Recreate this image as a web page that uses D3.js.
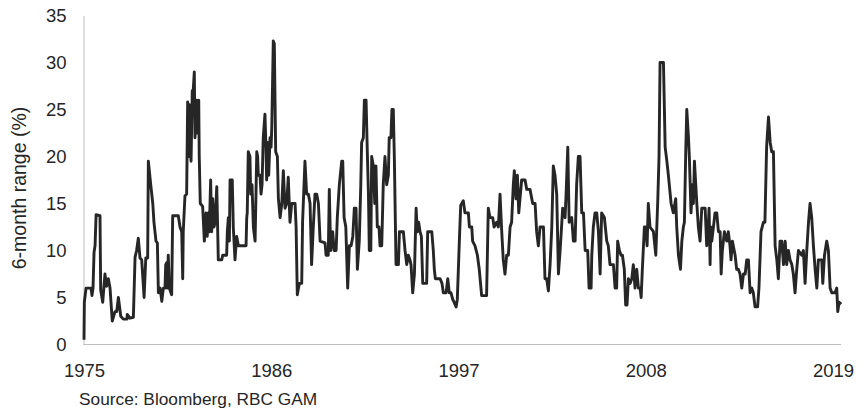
<!DOCTYPE html>
<html><head><meta charset="utf-8">
<script src="https://cdn.jsdelivr.net/npm/d3@7"></script>
<style>
body{margin:0;background:#fff;}
svg{display:block;font-family:"Liberation Sans",Arial,sans-serif;}
</style></head>
<body>
<svg id="chart" width="865" height="411"></svg>
<script>
const yTicks = [0,5,10,15,20,25,30,35];
const xTickLabels = [1975,1986,1997,2008,2019];
const dates = [
1975.00,1975.02,1975.12,1975.41,1975.47,1975.53,1975.59,1975.65,1975.71,1975.94,1975.98,1976.10,1976.23,1976.33,1976.43,1976.53,1976.66,1976.82,1976.92,1977.02,1977.16,1977.31,1977.53,1977.54,1977.70,1977.90,1978.00,1978.09,1978.19,1978.29,1978.39,1978.53,1978.63,1978.74,1978.78,1978.92,1979.04,1979.11,1979.23,1979.31,1979.37,1979.47,1979.57,1979.66,1979.76,1979.80,1979.86,1979.89,1979.95,1980.01,1980.15,1980.21,1980.54,1980.64,1980.74,1980.80,1980.83,1980.93,1981.03,1981.09,1981.15,1981.19,1981.23,1981.29,1981.36,1981.40,1981.48,1981.52,1981.62,1981.67,1981.74,1981.77,1981.83,1981.97,1982.07,1982.17,1982.24,1982.30,1982.36,1982.44,1982.50,1982.56,1982.64,1982.70,1982.80,1982.89,1983.09,1983.15,1983.38,1983.42,1983.48,1983.54,1983.58,1983.71,1983.77,1983.87,1983.97,1984.07,1984.52,1984.56,1984.59,1984.65,1984.75,1984.79,1984.87,1984.95,1985.05,1985.15,1985.20,1985.24,1985.34,1985.40,1985.46,1985.53,1985.63,1985.69,1985.73,1985.79,1985.85,1985.93,1985.99,1986.03,1986.12,1986.18,1986.26,1986.36,1986.42,1986.52,
1986.62,1986.71,1986.81,1986.91,1987.00,1987.10,1987.20,1987.40,1987.46,1987.53,1987.65,1987.79,1987.84,1987.98,1988.08,1988.18,1988.28,1988.37,1988.47,1988.57,1988.67,1988.77,1988.87,1989.16,1989.22,1989.35,1989.41,1989.49,1989.61,1989.69,1989.81,1989.88,1990.00,1990.14,1990.20,1990.28,1990.38,1990.49,1990.59,1990.69,1990.79,1990.88,1990.98,1991.06,1991.17,1991.26,1991.31,1991.41,1991.47,1991.57,1991.65,1991.71,1991.76,1991.85,1991.90,1992.00,1992.08,1992.15,1992.23,1992.33,1992.39,1992.49,1992.58,1992.68,1992.78,1992.88,1992.93,1993.03,1993.09,1993.17,1993.23,1993.33,1993.47,1993.53,1993.76,1993.86,1993.96,1994.05,1994.15,1994.21,1994.31,1994.41,1994.51,1994.58,1994.66,1994.74,1994.82,1994.90,1995.13,1995.19,1995.43,1995.52,1995.58,1995.64,1995.92,1996.03,1996.11,1996.27,1996.37,1996.46,1996.56,1996.66,1996.74,1996.86,1996.93,
1997.05,1997.13,1997.28,1997.38,1997.58,1997.64,1997.78,1997.83,1997.97,1998.11,1998.22,1998.36,1998.65,1998.75,1998.85,1999.01,1999.09,1999.24,1999.34,1999.44,1999.54,1999.63,1999.73,1999.83,1999.93,2000.03,2000.12,2000.22,2000.28,2000.38,2000.46,2000.54,2000.71,2000.91,2001.01,2001.20,2001.36,2001.50,2001.59,2001.69,2001.79,2001.99,2002.08,2002.18,2002.28,2002.38,2002.48,2002.57,2002.67,2002.77,2002.87,2002.97,2003.12,2003.26,2003.32,2003.42,2003.50,2003.65,2003.75,2003.85,2003.94,2004.04,2004.14,2004.24,2004.34,2004.44,2004.59,2004.67,2004.79,2004.83,2004.92,2005.02,2005.12,2005.22,2005.32,2005.41,2005.57,2005.71,2005.80,2005.90,2006.10,2006.20,2006.29,2006.35,2006.45,2006.55,2006.63,2006.74,2006.82,2006.90,2006.98,2007.08,2007.18,2007.27,2007.37,2007.47,2007.57,2007.67,2007.73,2007.80,2007.92,
2008.00,2008.08,2008.15,2008.25,2008.45,2008.59,2008.71,2008.78,2008.84,2009.04,2009.14,2009.24,2009.33,2009.49,2009.62,2009.76,2009.82,2009.92,2010.04,2010.12,2010.21,2010.27,2010.35,2010.41,2010.51,2010.56,2010.66,2010.74,2010.80,2010.86,2011.00,2011.09,2011.19,2011.29,2011.49,2011.58,2011.64,2011.72,2011.78,2011.82,2011.88,2012.07,2012.17,2012.27,2012.37,2012.43,2012.50,2012.62,2012.76,2012.85,2012.95,2013.01,2013.09,2013.25,2013.34,2013.44,2013.54,2013.64,2013.74,2013.84,2013.93,2014.03,2014.13,2014.23,2014.32,2014.42,2014.57,2014.65,2014.77,2014.91,2015.00,2015.10,2015.21,2015.31,2015.40,2015.50,2015.60,2015.70,2015.79,2015.89,2015.99,2016.09,2016.19,2016.28,2016.38,2016.48,2016.58,2016.67,2016.77,2016.87,2016.97,2017.16,2017.26,2017.36,2017.46,2017.56,2017.65,2017.75,2017.85,2017.95,2018.05,2018.14,2018.34,2018.40,2018.50,2018.63,2018.73,2018.83,2018.93,2019.12,2019.22,2019.28,2019.36,2019.48
];
const values = [
0.5,4.5,6.0,6.0,5.2,6.0,9.8,10.5,13.8,13.7,5.8,4.5,7.5,6.2,7.0,6.0,2.5,3.5,3.5,5.0,3.0,2.7,2.7,3.2,2.8,2.9,9.3,10.0,11.3,9.2,9.0,5.0,9.2,9.2,19.5,17.0,15.0,13.0,11.0,10.8,5.5,6.0,4.6,6.0,6.0,8.5,8.7,6.0,9.5,6.0,5.3,13.7,13.7,12.5,12.0,7.0,12.0,15.8,16.0,25.8,20.0,25.5,21.0,19.5,27.0,26.5,29.0,22.0,26.0,22.5,26.0,20.0,15.0,14.7,11.0,14.0,11.5,14.0,12.0,17.5,12.0,15.5,12.5,13.0,16.8,9.0,9.0,9.5,9.5,12.0,13.5,11.0,17.5,17.5,12.5,9.0,11.5,10.5,10.5,13.5,14.0,20.5,20.0,16.0,17.0,12.5,11.0,20.5,20.0,18.0,18.0,16.0,17.0,22.0,24.5,21.0,17.5,21.5,18.0,22.0,21.0,23.0,32.3,32.0,20.5,20.0,15.5,13.5,
15.0,18.5,14.5,15.0,17.8,13.0,15.0,15.0,12.5,5.3,6.5,6.5,13.0,19.5,16.0,16.0,15.0,8.5,12.5,16.0,16.0,15.0,11.0,10.8,9.5,9.5,16.5,10.0,12.0,10.0,10.0,13.5,17.0,19.5,19.5,13.5,12.5,6.0,10.5,10.5,11.5,14.5,14.5,8.0,11.0,17.0,21.5,22.0,26.0,26.0,20.0,16.0,10.0,10.0,20.0,19.0,15.0,19.0,12.5,12.5,10.5,10.5,17.0,20.0,17.0,18.0,22.0,22.0,25.0,25.0,20.0,8.5,8.5,12.0,12.0,10.0,8.5,9.5,9.0,8.5,5.5,7.5,14.5,12.0,13.0,12.0,11.5,6.5,6.5,12.0,12.0,10.0,8.0,7.0,7.0,6.5,5.5,5.5,7.0,5.5,5.5,4.8,4.5,4.0,4.8,
11.0,14.8,15.3,14.0,14.0,12.5,12.5,11.0,10.5,9.5,8.0,5.2,5.2,14.5,13.5,13.5,12.5,13.0,12.5,16.0,12.0,9.0,7.5,9.5,9.5,12.5,13.0,17.0,18.5,15.5,18.0,14.0,17.5,17.5,16.5,16.5,15.0,15.0,12.0,10.5,12.5,12.5,7.0,7.0,5.7,8.5,12.5,19.0,18.0,16.0,7.5,10.0,14.5,13.5,16.0,21.0,13.0,13.5,11.0,11.0,17.0,20.0,20.0,14.0,14.0,10.0,10.0,6.0,6.0,9.5,12.5,14.0,14.0,12.0,7.5,14.0,13.5,11.0,10.5,8.5,8.5,6.0,6.0,11.0,10.0,9.5,9.5,8.0,4.2,4.2,7.0,6.5,7.0,8.5,6.0,8.0,6.0,6.0,5.0,8.0,12.5,
12.5,10.5,15.0,12.5,12.0,9.5,15.5,20.0,30.0,30.0,21.0,19.5,18.0,15.0,14.0,15.5,12.5,9.5,8.0,11.0,12.5,13.0,20.5,25.0,22.0,20.0,14.0,17.0,15.0,19.5,15.0,12.5,11.0,14.5,14.5,10.5,11.0,14.5,8.5,12.5,11.0,14.0,14.0,12.0,12.0,7.5,10.0,12.0,11.0,12.0,10.5,9.0,11.0,9.5,8.0,8.0,7.5,6.0,7.5,7.5,9.0,9.0,5.5,6.0,5.5,4.0,4.0,6.0,12.0,13.0,13.0,21.0,24.2,21.5,20.5,20.5,10.5,9.0,7.0,11.0,11.0,8.5,11.0,8.5,10.0,9.0,8.5,7.5,5.5,8.0,10.0,9.5,10.0,6.5,10.0,13.0,15.0,13.5,10.5,8.0,6.0,9.0,9.0,6.5,9.5,11.0,10.0,6.0,5.5,5.5,6.0,3.5,4.5,4.3
];
const yTitle = "6-month range (%)";
const sourceText = "Source: Bloomberg, RBC GAM";

const data = dates.map((d,i)=>({date:d, value:values[i]}));
const svg = d3.select("#chart");
const x = d3.scaleLinear().domain([1975, 2019]).range([84, 833]);
const y = d3.scaleLinear().domain([0, 35]).range([344.5, 15.5]);
const axisColor = "#bfbfbf";
const textColor = "#262626";

// y axis
const gy = svg.append("g").attr("transform","translate(83.5,0)")
  .call(d3.axisLeft(y).tickValues(yTicks).tickSize(0).tickPadding(17));
gy.select(".domain").attr("stroke", axisColor).attr("stroke-width",1);
gy.selectAll("text").attr("font-size","18.5px").attr("fill",textColor)
  .attr("font-family","'Liberation Sans',Arial,sans-serif");

// x axis
const gx = svg.append("g").attr("transform","translate(0,344.5)")
  .call(d3.axisBottom(x).tickValues(xTickLabels).tickFormat(d3.format("d")).tickSize(0).tickPadding(19));
gx.select(".domain").remove();
gx.append("line").attr("x1", x(1975)-0.5).attr("x2", x(dates[dates.length-1]))
  .attr("y1",0).attr("y2",0).attr("stroke",axisColor).attr("stroke-width",1);
gx.selectAll("text").attr("font-size","18.5px").attr("fill",textColor)
  .attr("font-family","'Liberation Sans',Arial,sans-serif");

// line
const line = d3.line().x(d=>x(d.date)).y(d=>y(d.value));
svg.append("path").datum(data).attr("d", line)
  .attr("fill","none").attr("stroke","#262626").attr("stroke-width",2.9)
  .attr("stroke-linejoin","round");

// y title
svg.append("text").attr("transform","translate(26,188) rotate(-90)")
  .attr("text-anchor","middle").attr("font-size","19.5px").attr("fill",textColor)
  .text(yTitle);

// source
svg.append("text").attr("x",79).attr("y",405).attr("font-size","17.3px")
  .attr("fill",textColor).text(sourceText);
</script>
</body></html>
